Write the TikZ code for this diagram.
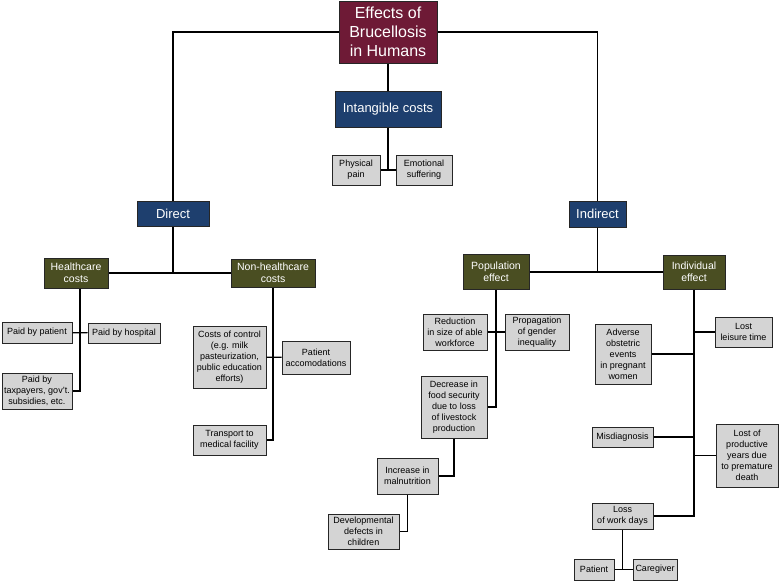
\documentclass[tikz,border=0pt]{standalone}
\usepackage{fontspec}
\setmainfont{Liberation Sans}
\usetikzlibrary{positioning,calc}
\definecolor{maroon}{HTML}{6E1A36}
\definecolor{navy}{HTML}{1E3F6E}
\definecolor{olive}{HTML}{4A4E22}
\definecolor{boxgray}{HTML}{D4D4D4}

\begin{document}
\begin{tikzpicture}[x=1pt,y=-1pt,line width=1.2pt,
  sz/.style 2 args={minimum width=#1pt,minimum height=#2pt},
  bx/.style={draw=black!85,line width=1pt,inner sep=1pt,align=center},
  ttl/.style={bx,fill=maroon,text=white,font=\fontsize{16}{19}\selectfont},
  cat/.style={bx,fill=navy,text=white,font=\fontsize{13}{15}\selectfont},
  sub/.style={bx,fill=olive,text=white,font=\fontsize{10.5}{12}\selectfont},
  leaf/.style={bx,fill=boxgray,font=\fontsize{9}{11}\selectfont}]
  \useasboundingbox (0,0) rectangle (779,581);

  \node[ttl,sz={98}{62}] (top) at (388,32) {Effects of\\Brucellosis\\in Humans};
  \node[cat,sz={106}{36}] (intang) at (388,109) {Intangible costs};
  \node[leaf,sz={48}{30}] (phys) at (356,170) {Physical\\pain};
  \node[leaf,sz={56}{30}] (emo) at (424,170) {Emotional\\suffering};
  \node[cat,sz={72}{25}] (dir) at (173,213.5) {Direct};
  \node[cat,sz={57}{26}] (indir) at (597.5,214) {Indirect};

  % direct costs
  \node[sub,sz={64}{30}] (hc) at (76,273) {Healthcare\\costs};
  \node[sub,sz={84}{28}] (nhc) at (273,273) {Non-healthcare\\costs};
  \node[leaf,sz={70}{21}] (pp) at (37,332.5) {Paid by patient};
  \node[leaf,sz={72}{20}] (ph) at (124,333) {Paid by hospital};
  \node[leaf,sz={70}{36}] (tax) at (37,391) {Paid by\\taxpayers, gov't.\\subsidies, etc.};
  \node[leaf,sz={73}{62}] (ctrl) at (229.5,357) {Costs of control\\(e.g. milk\\pasteurization,\\public education\\efforts)};
  \node[leaf,sz={68}{33}] (accom) at (316,357.5) {Patient\\accomodations};
  \node[leaf,sz={73}{30}] (trans) at (229.5,440) {Transport to\\medical facility};

  % indirect costs
  \node[sub,sz={66}{35}] (pop) at (496,272) {Population\\effect};
  \node[sub,sz={62}{34}] (ind) at (694,272) {Individual\\effect};
  \node[leaf,sz={64}{36}] (red) at (455,332) {Reduction\\in size of able\\workforce};
  \node[leaf,sz={64}{36}] (prop) at (537,332) {Propagation\\of gender\\inequality};
  \node[leaf,sz={66}{62}] (dec) at (454,407) {Decrease in\\food security\\due to loss\\of livestock\\production};
  \node[leaf,sz={61}{36}] (inc) at (407.5,476) {Increase in\\malnutrition};
  \node[leaf,sz={71}{35}] (dev) at (363.5,531.5) {Developmental\\defects in\\children};
  \node[leaf,sz={57}{30}] (leis) at (743.5,332) {Lost\\leisure time};
  \node[leaf,sz={56}{60}] (adv) at (623,354) {Adverse\\obstetric\\events\\in pregnant\\women};
  \node[leaf,sz={61}{20}] (mis) at (622.5,437) {Misdiagnosis};
  \node[leaf,sz={62}{63}] (prod) at (747,455.5) {Lost of\\productive\\years due\\to premature\\death};
  \node[leaf,sz={61}{26}] (loss) at (622.5,516) {Loss\\of work days};
  \node[leaf,sz={40}{21}] (pat) at (594,569.5) {Patient};
  \node[leaf,sz={44}{21}] (care) at (655,569.5) {Caregiver};

  \draw (top) -| (dir);
  \draw (top) -| (indir);
  \draw (top) -- (intang);
  \draw (intang) -- (intang |- phys);
  \draw (phys) -- (emo);

  \draw (dir) -- (dir |- hc);
  \draw (hc) -- (nhc);
  \draw ([xshift=4pt]hc.south) |- (tax);
  \draw (pp) -- (ph);
  \draw (nhc) |- (trans);
  \draw (ctrl) -- (accom);

  \draw (indir) -- (indir |- pop);
  \draw (pop) -- (ind);
  \draw (pop) |- (dec);
  \draw (red) -- (prop);
  \draw (dec) |- (inc);
  \draw (inc) |- (dev);
  \draw (ind) |- (loss);
  \foreach \n in {leis,adv,mis,prod}
    \draw (\n) -- (\n -| ind);
  \draw (loss) -- (loss |- pat);
  \draw (pat) -- (care);
\end{tikzpicture}
\end{document}
